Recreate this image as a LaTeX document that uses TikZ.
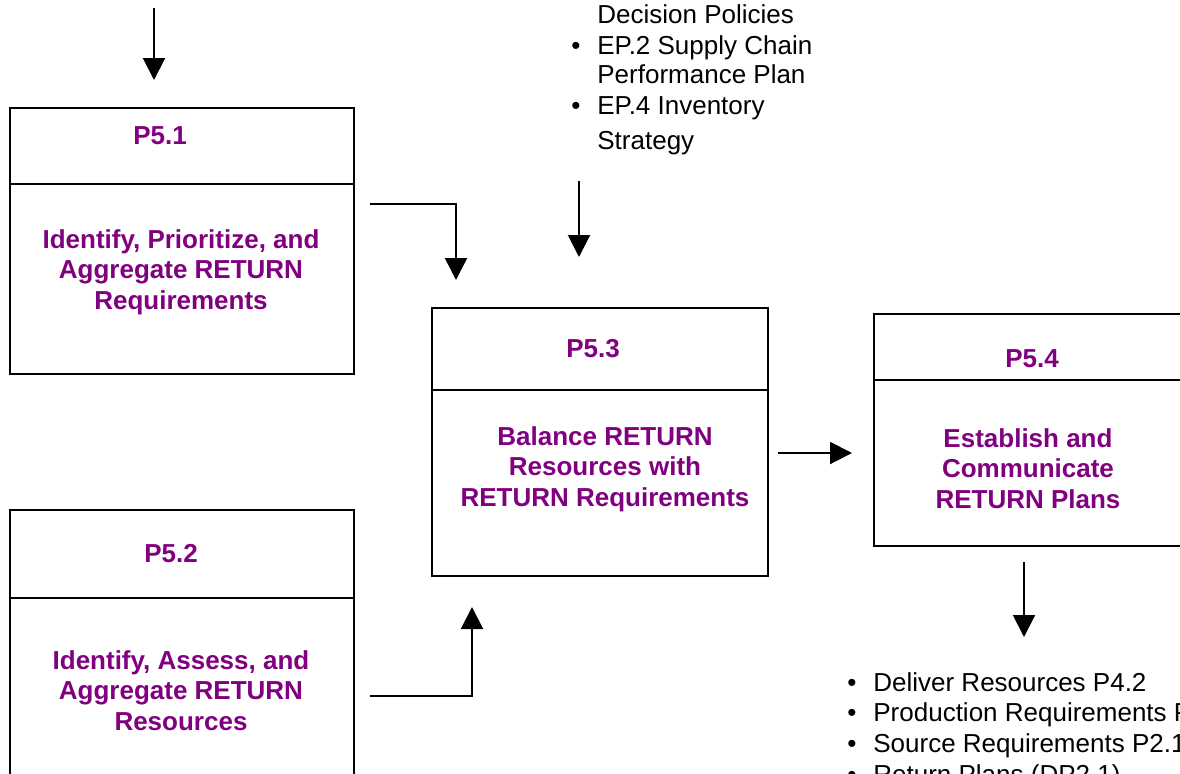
\documentclass[tikz,border=0pt]{standalone}
\usepackage{fontspec}
\setmainfont{Liberation Sans}
\usetikzlibrary{arrows.meta}

\definecolor{procpurple}{RGB}{128,0,128}

\tikzset{
  box/.style={draw, line width=1.1pt},
  flow/.style={line width=1pt, -{Triangle[length=11pt,width=11pt]}},
  hdr/.style={text=procpurple, font=\fontsize{13}{15.25}\selectfont\bfseries, anchor=base, inner sep=0pt},
  body/.style={text=procpurple, font=\fontsize{13}{15.25}\selectfont\bfseries, align=center, anchor=base, inner sep=0pt},
  item/.style={anchor=base west, inner sep=0pt},
  dot/.style={anchor=base, inner sep=0pt},
}

\begin{document}
\begin{tikzpicture}[x=0.5pt, y=-0.5pt, font=\fontsize{13}{15.25}\selectfont]
\useasboundingbox (0,0) rectangle (1180,773);
\clip (0,0) rectangle (1180,773);

% process boxes
\draw[box] (10,108) rectangle (354,374) (10,184) -- (354,184);
\draw[box] (10,510) rectangle (354,800) (10,598) -- (354,598);
\draw[box] (432,308) rectangle (768,576) (432,390) -- (768,390);
\draw[box] (874,314) rectangle (1200,546) (874,380) -- (1200,380);

% base of a multi-line node sits on its last line
\node[hdr] (p51) at (160,144) {P5.1};
\node[body] (p51t) at (181,309) {Identify, Prioritize, and\\Aggregate RETURN\\Requirements};
\node[hdr] (p52) at (171,562) {P5.2};
\node[body] (p52t) at (181,730) {Identify, Assess, and\\Aggregate RETURN\\Resources};
\node[hdr] (p53) at (593,357) {P5.3};
\node[body] (p53t) at (605,506) {Balance RETURN\\Resources with\\RETURN Requirements};
\node[hdr] (p54) at (1032,367) {P5.4};
\node[body] (p54t) at (1028,508) {Establish and\\Communicate\\RETURN Plans};

% inputs
\foreach \y/\txt in {23/Decision Policies, 54/EP.2 Supply Chain, 83/Performance Plan,
                     114/EP.4 Inventory, 149/Strategy}
  \node[item] (in\y) at (597,\y) {\txt};
\node[dot] (b1) at (576,54) {•};
\node[dot] (b2) at (576,114) {•};

% outputs
\foreach \y/\txt in {691/Deliver Resources P4.2, 721/Production Requirements P3.1,
                     752/Source Requirements P2.1, 783/Return Plans (DP2.1)}
{
  \node[item] (out\y) at (873,\y) {\txt};
  \node[dot] (ob\y) at (852,\y) {•};
}

% connectors
\coordinate (a1) at (154,8);    \coordinate (a1e) at (154,80);
\coordinate (a2) at (370,204);  \coordinate (a2e) at (456,280);
\coordinate (a3) at (579,181);  \coordinate (a3e) at (579,257);
\coordinate (a4) at (778,453);  \coordinate (a4e) at (852,453);
\coordinate (a5) at (370,696);  \coordinate (a5e) at (472,607);
\coordinate (a6) at (1024,562); \coordinate (a6e) at (1024,637);

\draw[flow] (a1) -- (a1e);
\draw[flow] (a2) -| (a2e);
\draw[flow] (a3) -- (a3e);
\draw[flow] (a4) -- (a4e);
\draw[flow] (a5) -| (a5e);
\draw[flow] (a6) -- (a6e);
\end{tikzpicture}
\end{document}
